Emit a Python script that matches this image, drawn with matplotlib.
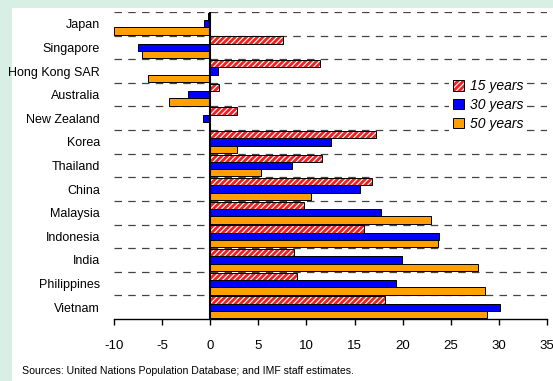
import matplotlib
matplotlib.use("Agg")
import matplotlib.pyplot as plt
from matplotlib.patches import Patch, Rectangle
from matplotlib.legend_handler import HandlerTuple
import numpy as np

plt.rcParams['font.family'] = ['Liberation Sans', 'DejaVu Sans']
plt.rcParams['hatch.linewidth'] = 2.0

countries = ["Japan", "Singapore", "Hong Kong SAR", "Australia", "New Zealand",
             "Korea", "Thailand", "China", "Malaysia", "Indonesia", "India",
             "Philippines", "Vietnam"]
yrs15 = [-0.2, 7.6, 11.4, 0.9, 2.8, 17.2, 11.6, 16.8, 9.7, 16.0, 8.7, 9.0, 18.2]
yrs30 = [-0.6, -7.5, 0.8, -2.3, -0.7, 12.5, 8.5, 15.6, 17.7, 23.8, 19.9, 19.3, 30.1]
yrs50 = [-10.0, -7.1, -6.5, -4.3, -0.1, 2.8, 5.3, 10.5, 22.9, 23.7, 27.8, 28.6, 28.8]
xticks = [-10, -5, 0, 5, 10, 15, 20, 25, 30, 35]

red = "#f02020"
blue = "#0000ff"
orange = "#ffa000"
green_bg = "#d8efe6"

fig = plt.figure(figsize=(5.53, 3.81), dpi=100)
fig.patch.set_facecolor(green_bg)
# white panel behind everything
fig.patches.append(Rectangle((12 / 553, 0), 1, 1 - 8 / 381, transform=fig.transFigure,
                             facecolor="white", edgecolor="none", zorder=-10))

ax = fig.add_axes([114 / 553, 1 - 319 / 381, 433 / 553, 307 / 381])
ax.set_facecolor("none")

y = np.arange(len(countries))
h = 0.31

# group separators
for b in np.arange(-0.5, len(countries) - 1, 1.0):
    ax.axhline(b, color="#444444", lw=0.9, ls=(0, (6, 5)), zorder=1)

ax.barh(y - h, yrs15, height=h, color="white", edgecolor=red, hatch="//////",
        linewidth=0, zorder=2)
ax.barh(y - h, yrs15, height=h, fill=False, edgecolor="black", linewidth=0.7, zorder=3)
ax.barh(y, yrs30, height=h, color=blue, edgecolor="black", linewidth=0.7, zorder=3)
ax.barh(y + h, yrs50, height=h, color=orange, edgecolor="black", linewidth=0.7, zorder=3)

ax.axvline(0, color="black", lw=1.5, zorder=4)

ax.set_xlim(-10, 35)
ax.set_ylim(len(countries) - 0.5, -0.5)
ax.set_xticks(xticks)
ax.set_xticklabels([str(t) for t in xticks], fontsize=9.5)
ax.set_yticks(y)
ax.set_yticklabels(countries, fontsize=9)
ax.tick_params(axis="y", length=0, pad=10)
ax.tick_params(axis="x", direction="out", length=4, width=1, pad=11)
for s in ["left", "right", "top"]:
    ax.spines[s].set_visible(False)
ax.spines["bottom"].set_linewidth(1)

h15 = (Patch(facecolor="white", edgecolor=red, hatch="//////", linewidth=0),
       Patch(fill=False, edgecolor="black", linewidth=0.7))
h30 = Patch(facecolor=blue, edgecolor="black", linewidth=0.7)
h50 = Patch(facecolor=orange, edgecolor="black", linewidth=0.7)
leg = ax.legend([h15, h30, h50], ["15 years", "30 years", "50 years"],
                handler_map={tuple: HandlerTuple(ndivide=1, pad=0)},
                loc="upper left", bbox_to_anchor=(442 / 553, 1 - 68 / 381),
                bbox_transform=fig.transFigure, frameon=True, facecolor="white",
                edgecolor="none", framealpha=1, fancybox=False,
                prop={"style": "italic", "size": 10}, handlelength=0.8,
                handleheight=0.8, handletextpad=0.4, labelspacing=0.35,
                borderpad=0.3)
leg.set_zorder(5)

fig.text(22 / 553, 1 - 371 / 381, "Sources: United Nations Population Database; and IMF staff estimates.",
         fontsize=7.6, va="center", ha="left")

fig.savefig("out.png", dpi=100, facecolor=fig.get_facecolor())
